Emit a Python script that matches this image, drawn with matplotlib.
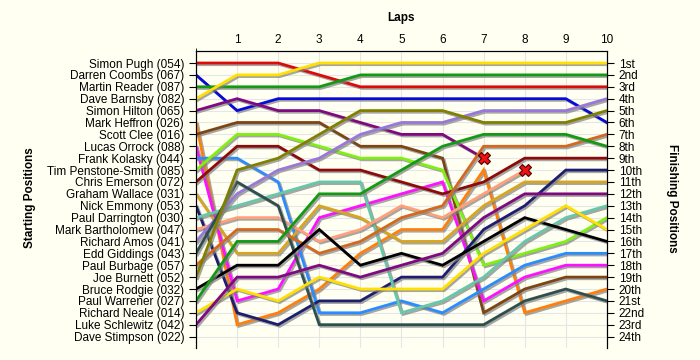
import matplotlib
matplotlib.use('Agg')
import matplotlib.pyplot as plt
import matplotlib.patheffects as pe

plt.rcParams['font.family'] = ['Liberation Sans', 'DejaVu Sans']
plt.rcParams['font.size'] = 8

laps = list(range(11))
lap_labels = [str(i) for i in range(1, 11)]

drivers = ['Simon Pugh (054)', 'Darren Coombs (067)', 'Martin Reader (087)',
           'Dave Barnsby (082)', 'Simon Hilton (065)', 'Mark Heffron (026)',
           'Scott Clee (016)', 'Lucas Orrock (088)', 'Frank Kolasky (044)',
           'Tim Penstone-Smith (085)', 'Chris Emerson (072)', 'Graham Wallace (031)',
           'Nick Emmony (053)', 'Paul Darrington (030)', 'Mark Bartholomew (047)',
           'Richard Amos (041)', 'Edd Giddings (043)', 'Paul Burbage (057)',
           'Joe Burnett (052)', 'Bruce Rodgie (032)', 'Paul Warrener (027)',
           'Richard Neale (014)', 'Luke Schlewitz (042)', 'Dave Stimpson (022)']

# position after each lap (lap 0 = grid)
pugh = [1, 1, 1, 2, 3, 3, 3, 3, 3, 3, 3]
coombs = [2, 5, 4, 4, 4, 4, 4, 4, 4, 4, 6]
reader = [3, 3, 3, 3, 2, 2, 2, 2, 2, 2, 2]
barnsby = [4, 2, 2, 1, 1, 1, 1, 1, 1, 1, 1]
hilton = [5, 4, 5, 5, 6, 7, 7, 9]
heffron = [6, 23, 22, 20, 17, 15, 15, 10, 22, 21, 20]
clee = [7, 6, 6, 6, 8, 8, 9, 22, 20, 19, 19]
orrock = [8, 21, 20, 14, 13, 12, 11, 21, 19, 18, 18]
kolasky = [9, 9, 11, 22, 22, 21, 22, 20, 18, 17, 17]
penstone_smith = [10, 7, 7, 8, 9, 9, 10, 18, 17, 16, 14]
emerson = [11, 8, 8, 10, 10, 11, 12, 11, 9, 9, 9]
wallace = [12, 17, 17, 13, 14, 16, 16, 13, 11, 11, 11]
emmony = [13, 22, 23, 21, 21, 19, 19, 15, 13, 10, 10]
darrington = [14, 13, 12, 11, 11, 22, 21, 19, 16, 14, 13]
bartholomew = [15, 14, 14, 16, 15, 13, 14, 12, 10]
amos = [16, 12, 10, 9, 7, 6, 6, 5, 5, 5, 4]
giddings = [17, 11, 13, 23, 23, 23, 23, 23, 21, 20, 21]
burbage = [18, 15, 15, 17, 16, 14, 13, 8, 8, 8, 7]
burnett = [19, 10, 9, 7, 5, 5, 5, 6, 6, 6, 5]
rodgie = [20, 18, 18, 15, 18, 17, 18, 16, 14, 15, 16]
warrener = [21, 16, 16, 12, 12, 10, 8, 7, 7, 7, 8]
neale = [22, 20, 21, 19, 20, 20, 20, 17, 15, 13, 15]
schlewitz = [23, 19, 19, 18, 19, 18, 17, 14, 12, 12, 12]
stimpson = []

positions = [pugh, coombs, reader, barnsby, hilton, heffron, clee, orrock, kolasky,
             penstone_smith, emerson, wallace, emmony, darrington, bartholomew, amos,
             giddings, burbage, burnett, rodgie, warrener, neale, schlewitz, stimpson]
retired = ['Simon Hilton (065)', 'Mark Bartholomew (047)']

colors = ['#dd0a0a', '#0a0ad8', '#129a12', '#ffe000', '#7f0a7f', '#ff7f0a',
          '#7b4514', '#ff10ff', '#2a8cff', '#80f010', '#8b0a0a', '#d8a520',
          '#1e1e70', '#66c8a8', '#ffa07a', '#9878d8', '#2f4f4f', '#d2691e',
          '#808000', '#000000', '#129a12', '#ffe000', '#7f0a7f', '#000000']


def ordinal(n):
    if n % 10 == 1 and n != 11:
        return f'{n}st'
    if n % 10 == 2 and n != 12:
        return f'{n}nd'
    if n % 10 == 3 and n != 13:
        return f'{n}rd'
    return f'{n}th'


bg = '#fffff2'
fig = plt.figure(figsize=(7, 3.6), dpi=100, facecolor=bg)
ax = fig.add_axes([0.28, 0.032, 0.587, 0.826], facecolor=bg)

shadow = [pe.SimpleLineShadow(offset=(1.2, -1.2), shadow_color='#808080', alpha=0.7), pe.Normal()]
for name, pos, color in zip(drivers, positions, colors):
    if not pos:
        continue
    ax.plot(laps[:len(pos)], pos, color=color, lw=2, solid_joinstyle='miter',
            path_effects=shadow, zorder=3)
    if name in retired:
        ax.plot(len(pos) - 1, pos[-1], marker='X', ms=9, mfc='#ee1111', mec='#500000',
                mew=0.8, zorder=5)

ax.set_xlim(0, 10)
ax.set_ylim(25, 0)
ax.xaxis.tick_top()
ax.set_xticks(range(1, 11))
ax.set_xticklabels(lap_labels, fontsize=8.5)
ax.tick_params(axis='x', length=0, pad=4)
ax.set_xticks(range(11), minor=True)
ax.grid(which='minor', axis='x', color='#e6e6e6', lw=0.8, zorder=0)
ax.set_yticks(range(1, 25))
ax.set_yticklabels(drivers, fontsize=8.5)
ax.tick_params(axis='y', length=5, width=0.8)
ax.grid(axis='y', color='#e6e6e6', lw=0.8, zorder=0)
ax.grid(which='major', axis='x', color='#e6e6e6', lw=0.8, zorder=0)
ax.spines['bottom'].set_visible(False)

ax2 = ax.twinx()
ax2.set_ylim(25, 0)
ax2.set_yticks(range(1, 25))
ax2.set_yticklabels([ordinal(i) for i in range(1, 25)], fontsize=8.5)
ax2.tick_params(axis='y', length=5, width=0.8)
ax2.spines['bottom'].set_visible(False)

fig.text(0.573, 0.95, 'Laps', ha='center', va='center', fontsize=8.5, fontweight='bold')
fig.text(0.043, 0.45, 'Starting Positions', ha='center', va='center', rotation=90,
         fontsize=8.5, fontweight='bold')
fig.text(0.96, 0.45, 'Finishing Positions', ha='center', va='center', rotation=-90,
         fontsize=8.5, fontweight='bold')

fig.savefig('out.png', dpi=100, facecolor=bg)
